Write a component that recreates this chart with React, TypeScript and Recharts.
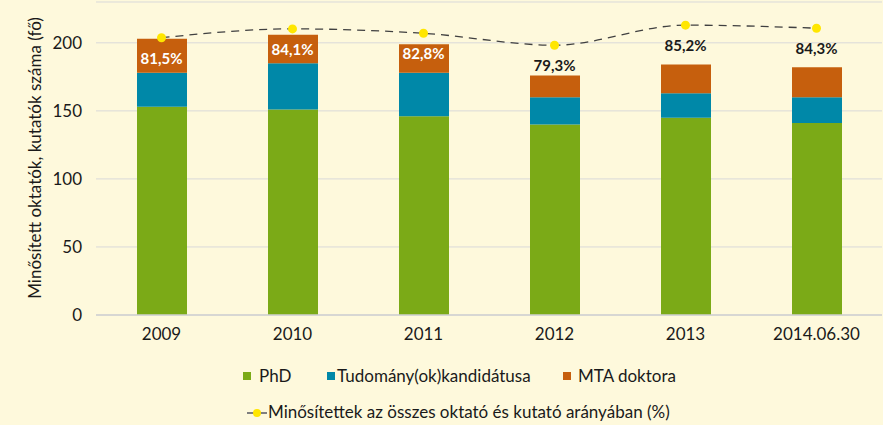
import {
  Bar,
  CartesianGrid,
  ComposedChart,
  LabelList,
  Legend,
  Line,
  XAxis,
  YAxis,
} from 'recharts';

const years = ['2009', '2010', '2011', '2012', '2013', '2014.06.30'];
const phd = [153, 151, 146, 140, 145, 141];
const kandidatus = [25, 34, 32, 20, 18, 19];
const mtaDoktor = [25, 21, 21, 16, 21, 22];
const arany = [81.5, 84.1, 82.8, 79.3, 85.2, 84.3];
const yTicks = [0, 50, 100, 150, 200];

const GREEN = '#7BAA17';
const TEAL = '#0088A8';
const ORANGE = '#C65F0D';
const BG = '#FEF9DC';
const FONT = 'Lato, "Open Sans", sans-serif';

const data = years.map((year, i) => ({
  year,
  phd: phd[i],
  kandidatus: kandidatus[i],
  mtaDoktor: mtaDoktor[i],
  arany: arany[i],
}));

function PctLabel({ x, y, value, index }: any) {
  const inside = index < 3;
  return (
    <text
      x={x}
      y={y + 22}
      textAnchor="middle"
      dominantBaseline="middle"
      fontFamily={FONT}
      fontWeight={700}
      fontSize={15}
      fill={inside ? '#FFFFFF' : '#1A1A1A'}
    >
      {value.toFixed(1).replace('.', ',') + '%'}
    </text>
  );
}

function ChartLegend() {
  const txt = { position: 'absolute' as const, fontSize: 17, color: '#1A1A1A', whiteSpace: 'nowrap' as const };
  const sq = (left: number, color: string) => (
    <div style={{ position: 'absolute', left, top: 372, width: 8, height: 8, background: color }} />
  );
  return (
    <div style={{ position: 'relative', width: 883, height: 80, fontFamily: FONT }}>
      <div style={{ position: 'absolute', left: 0, top: -345, width: 883, height: 425 }}>
        {sq(243, GREEN)}
        <span style={{ ...txt, left: 259, top: 365 }}>PhD</span>
        {sq(327, TEAL)}
        <span style={{ ...txt, left: 337, top: 365 }}>Tudomány(ok)kandidátusa</span>
        {sq(563, ORANGE)}
        <span style={{ ...txt, left: 578, top: 365 }}>MTA doktora</span>
        <svg style={{ position: 'absolute', left: 246, top: 405 }} width={22} height={16}>
          <line x1={1} y1={8} x2={21} y2={8} stroke="#7F7F7F" strokeWidth={2} />
          <circle cx={11} cy={8} r={4} fill="#FFE600" />
        </svg>
        <span style={{ ...txt, left: 268, top: 401 }}>
          Minősítettek az összes oktató és kutató arányában (%)
        </span>
      </div>
    </div>
  );
}

function YTitle() {
  return (
    <text
      x={37}
      y={158}
      transform="rotate(-90, 37, 158)"
      textAnchor="middle"
      dominantBaseline="middle"
      fill="#1A1A1A"
      fontSize={17}
      fontFamily={FONT}
    >
      Minősített oktatók, kutatók száma (fő)
    </text>
  );
}

export default function App() {
  return (
    <div style={{ position: 'absolute', left: 0, top: 0, width: 883, height: 425, background: BG }}>
      <ComposedChart
        width={883}
        height={425}
        data={data}
        margin={{ top: 2, right: 1, left: 20, bottom: 0 }}
      >
        <CartesianGrid yAxisId="left" vertical={false} stroke="#D9D9D9" />
        <XAxis
          dataKey="year"
          height={30}
          tickLine={false}
          axisLine={{ stroke: '#D0D0D0', strokeWidth: 1.5 }}
          tick={{ fill: '#1A1A1A', fontSize: 17, fontFamily: FONT }}
          tickMargin={7}
        />
        <YAxis
          yAxisId="left"
          width={76}
          domain={[0, 230]}
          ticks={yTicks}
          axisLine={false}
          tickLine={false}
          tickMargin={8}
          tick={{ fill: '#1A1A1A', fontSize: 17, fontFamily: FONT }}
          label={<YTitle />}
        />
        <YAxis yAxisId="right" orientation="right" domain={[0, 92]} hide />
        <Legend verticalAlign="bottom" height={80} content={<ChartLegend />} wrapperStyle={{ left: 0, width: 883 }} />
        <Bar yAxisId="left" dataKey="phd" name="PhD" stackId="a" fill={GREEN} barSize={50} isAnimationActive={false} />
        <Bar
          yAxisId="left"
          dataKey="kandidatus"
          name="Tudomány(ok)kandidátusa"
          stackId="a"
          fill={TEAL}
          barSize={50}
          isAnimationActive={false}
        />
        <Bar
          yAxisId="left"
          dataKey="mtaDoktor"
          name="MTA doktora"
          stackId="a"
          fill={ORANGE}
          barSize={50}
          isAnimationActive={false}
        />
        <Line
          yAxisId="right"
          type="monotone"
          dataKey="arany"
          name="Minősítettek az összes oktató és kutató arányában (%)"
          stroke="#404040"
          strokeWidth={1.3}
          strokeDasharray="8 6"
          dot={{ r: 4.5, fill: '#FFE600', stroke: 'none' }}
          activeDot={false}
          isAnimationActive={false}
        >
          <LabelList dataKey="arany" content={<PctLabel />} />
        </Line>
      </ComposedChart>
    </div>
  );
}
